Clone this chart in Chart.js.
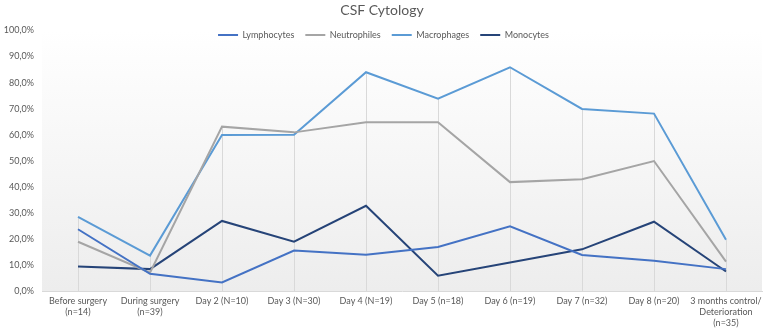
<!DOCTYPE html>
<html>
<head>
<meta charset="utf-8">
<script src="https://cdn.jsdelivr.net/npm/chart.js@4"></script>
<style>
  html, body { margin: 0; padding: 0; background: #fff; }
  #wrap { width: 767px; height: 331px; position: relative; }
</style>
</head>
<body>
<div id="wrap"><canvas id="cytoChart"></canvas></div>
<script>
// ==================== CSF CYTOLOGY DATA ====================
const categories = [
  ['Before surgery', '(n=14)'],
  ['During surgery', '(n=39)'],
  'Day 2 (N=10)',
  'Day 3 (N=30)',
  'Day 4 (N=19)',
  'Day 5 (n=18)',
  'Day 6 (n=19)',
  'Day 7 (n=32)',
  'Day 8 (n=20)',
  ['3 months control/', 'Deterioration', '(n=35)']
];
const lymphocytes  = [23.7, 6.6, 3.3, 15.5, 13.9, 16.9, 24.8, 13.8, 11.6, 8.4];
const neutrophiles = [18.9, 7.0, 63.1, 60.9, 64.8, 64.8, 41.8, 42.9, 49.9, 11.3];
const macrophages  = [28.5, 13.6, 59.9, 60.0, 84.0, 73.8, 85.9, 69.9, 68.1, 19.7];
const monocytes    = [9.4, 8.4, 26.9, 18.9, 32.7, 5.9, 10.9, 16.0, 26.6, 7.5];
const yTicks = [0, 10, 20, 30, 40, 50, 60, 70, 80, 90, 100];

const FONT = 'Lato, "Open Sans", sans-serif';
const TEXT = '#595959';

// plot area background: white at the top fading to light grey at the bottom
const plotBackground = {
  id: 'plotBackground',
  beforeDraw(chart) {
    const { ctx, chartArea: a } = chart;
    const y100 = chart.scales.y.getPixelForValue(100);
    const g = ctx.createLinearGradient(0, y100, 0, a.bottom);
    g.addColorStop(0, '#ffffff');
    g.addColorStop(1, '#ededed');
    ctx.save();
    ctx.fillStyle = g;
    ctx.fillRect(a.left, y100, a.right - a.left, a.bottom - y100);
    ctx.restore();
  }
};

// drop lines from the highest point in each category down to the axis
const dropLines = {
  id: 'dropLines',
  beforeDatasetsDraw(chart) {
    const { ctx, scales: { x, y } } = chart;
    ctx.save();
    ctx.strokeStyle = '#d9d9d9';
    ctx.lineWidth = 1;
    categories.forEach((c, i) => {
      const top = Math.max(...chart.data.datasets.map(d => d.data[i]));
      const px = Math.round(x.getPixelForValue(i)) + 0.5;
      ctx.beginPath();
      ctx.moveTo(px, y.getPixelForValue(top));
      ctx.lineTo(px, y.getPixelForValue(0));
      ctx.stroke();
    });
    ctx.restore();
  }
};

// legend sits inside the plot area, one row, centred on the whole canvas
const legendRow = {
  id: 'legendRow',
  beforeLayout(chart) {
    if (chart.legend) chart.legend.isHorizontal = () => true;
  },
  afterLayout(chart) {
    const lg = chart.legend;
    if (!lg) return;
    const pad = lg.options.labels.padding;
    const h = lg.height;
    lg.left = 0;
    lg.right = chart.width;
    lg.width = chart.width;
    lg.top = 35 - pad - 4.5;
    lg.bottom = lg.top + h;
  }
};

function series(label, data, color) {
  return {
    label, data,
    borderColor: color,
    backgroundColor: color,
    borderWidth: 2,
    pointRadius: 0,
    pointHoverRadius: 0,
    tension: 0,
    fill: false
  };
}

new Chart(document.getElementById('cytoChart'), {
  type: 'line',
  data: {
    labels: categories,
    datasets: [
      series('Lymphocytes', lymphocytes, '#4472c4'),
      series('Neutrophiles', neutrophiles, '#a5a5a5'),
      series('Macrophages', macrophages, '#5b9bd5'),
      series('Monocytes', monocytes, '#264478')
    ]
  },
  options: {
    responsive: true,
    maintainAspectRatio: false,
    animation: false,
    layout: { padding: { left: 2, right: 5, top: 2, bottom: 2 } },
    plugins: {
      title: {
        display: true,
        text: 'CSF Cytology',
        color: TEXT,
        font: { family: FONT, size: 14, weight: 'normal' },
        padding: { top: 0, bottom: 0 }
      },
      legend: {
        position: 'chartArea',
        align: 'center',
        labels: {
          color: TEXT,
          font: { family: FONT, size: 9 },
          usePointStyle: true,
          pointStyle: 'line',
          pointStyleWidth: 20,
          boxHeight: 9,
          padding: 11
        }
      },
      tooltip: { enabled: false }
    },
    scales: {
      x: {
        offset: true,
        afterFit: axis => { axis.height = 38; },
        grid: { display: false, drawTicks: false },
        border: { display: true, color: '#d9d9d9' },
        ticks: {
          color: TEXT,
          font: { family: FONT, size: 9, lineHeight: 1.25 },
          maxRotation: 0,
          autoSkip: false,
          padding: 4
        }
      },
      y: {
        min: 0,
        max: 104.5,
        afterFit: axis => { axis.width = 40; },
        afterBuildTicks: axis => { axis.ticks = yTicks.map(v => ({ value: v })); },
        grid: { display: false, drawTicks: false },
        border: { display: false },
        ticks: {
          color: TEXT,
          font: { family: FONT, size: 9 },
          padding: 8,
          callback: v => v.toFixed(1).replace('.', ',') + '%'
        }
      }
    }
  },
  plugins: [plotBackground, dropLines, legendRow]
});
</script>
</body>
</html>
